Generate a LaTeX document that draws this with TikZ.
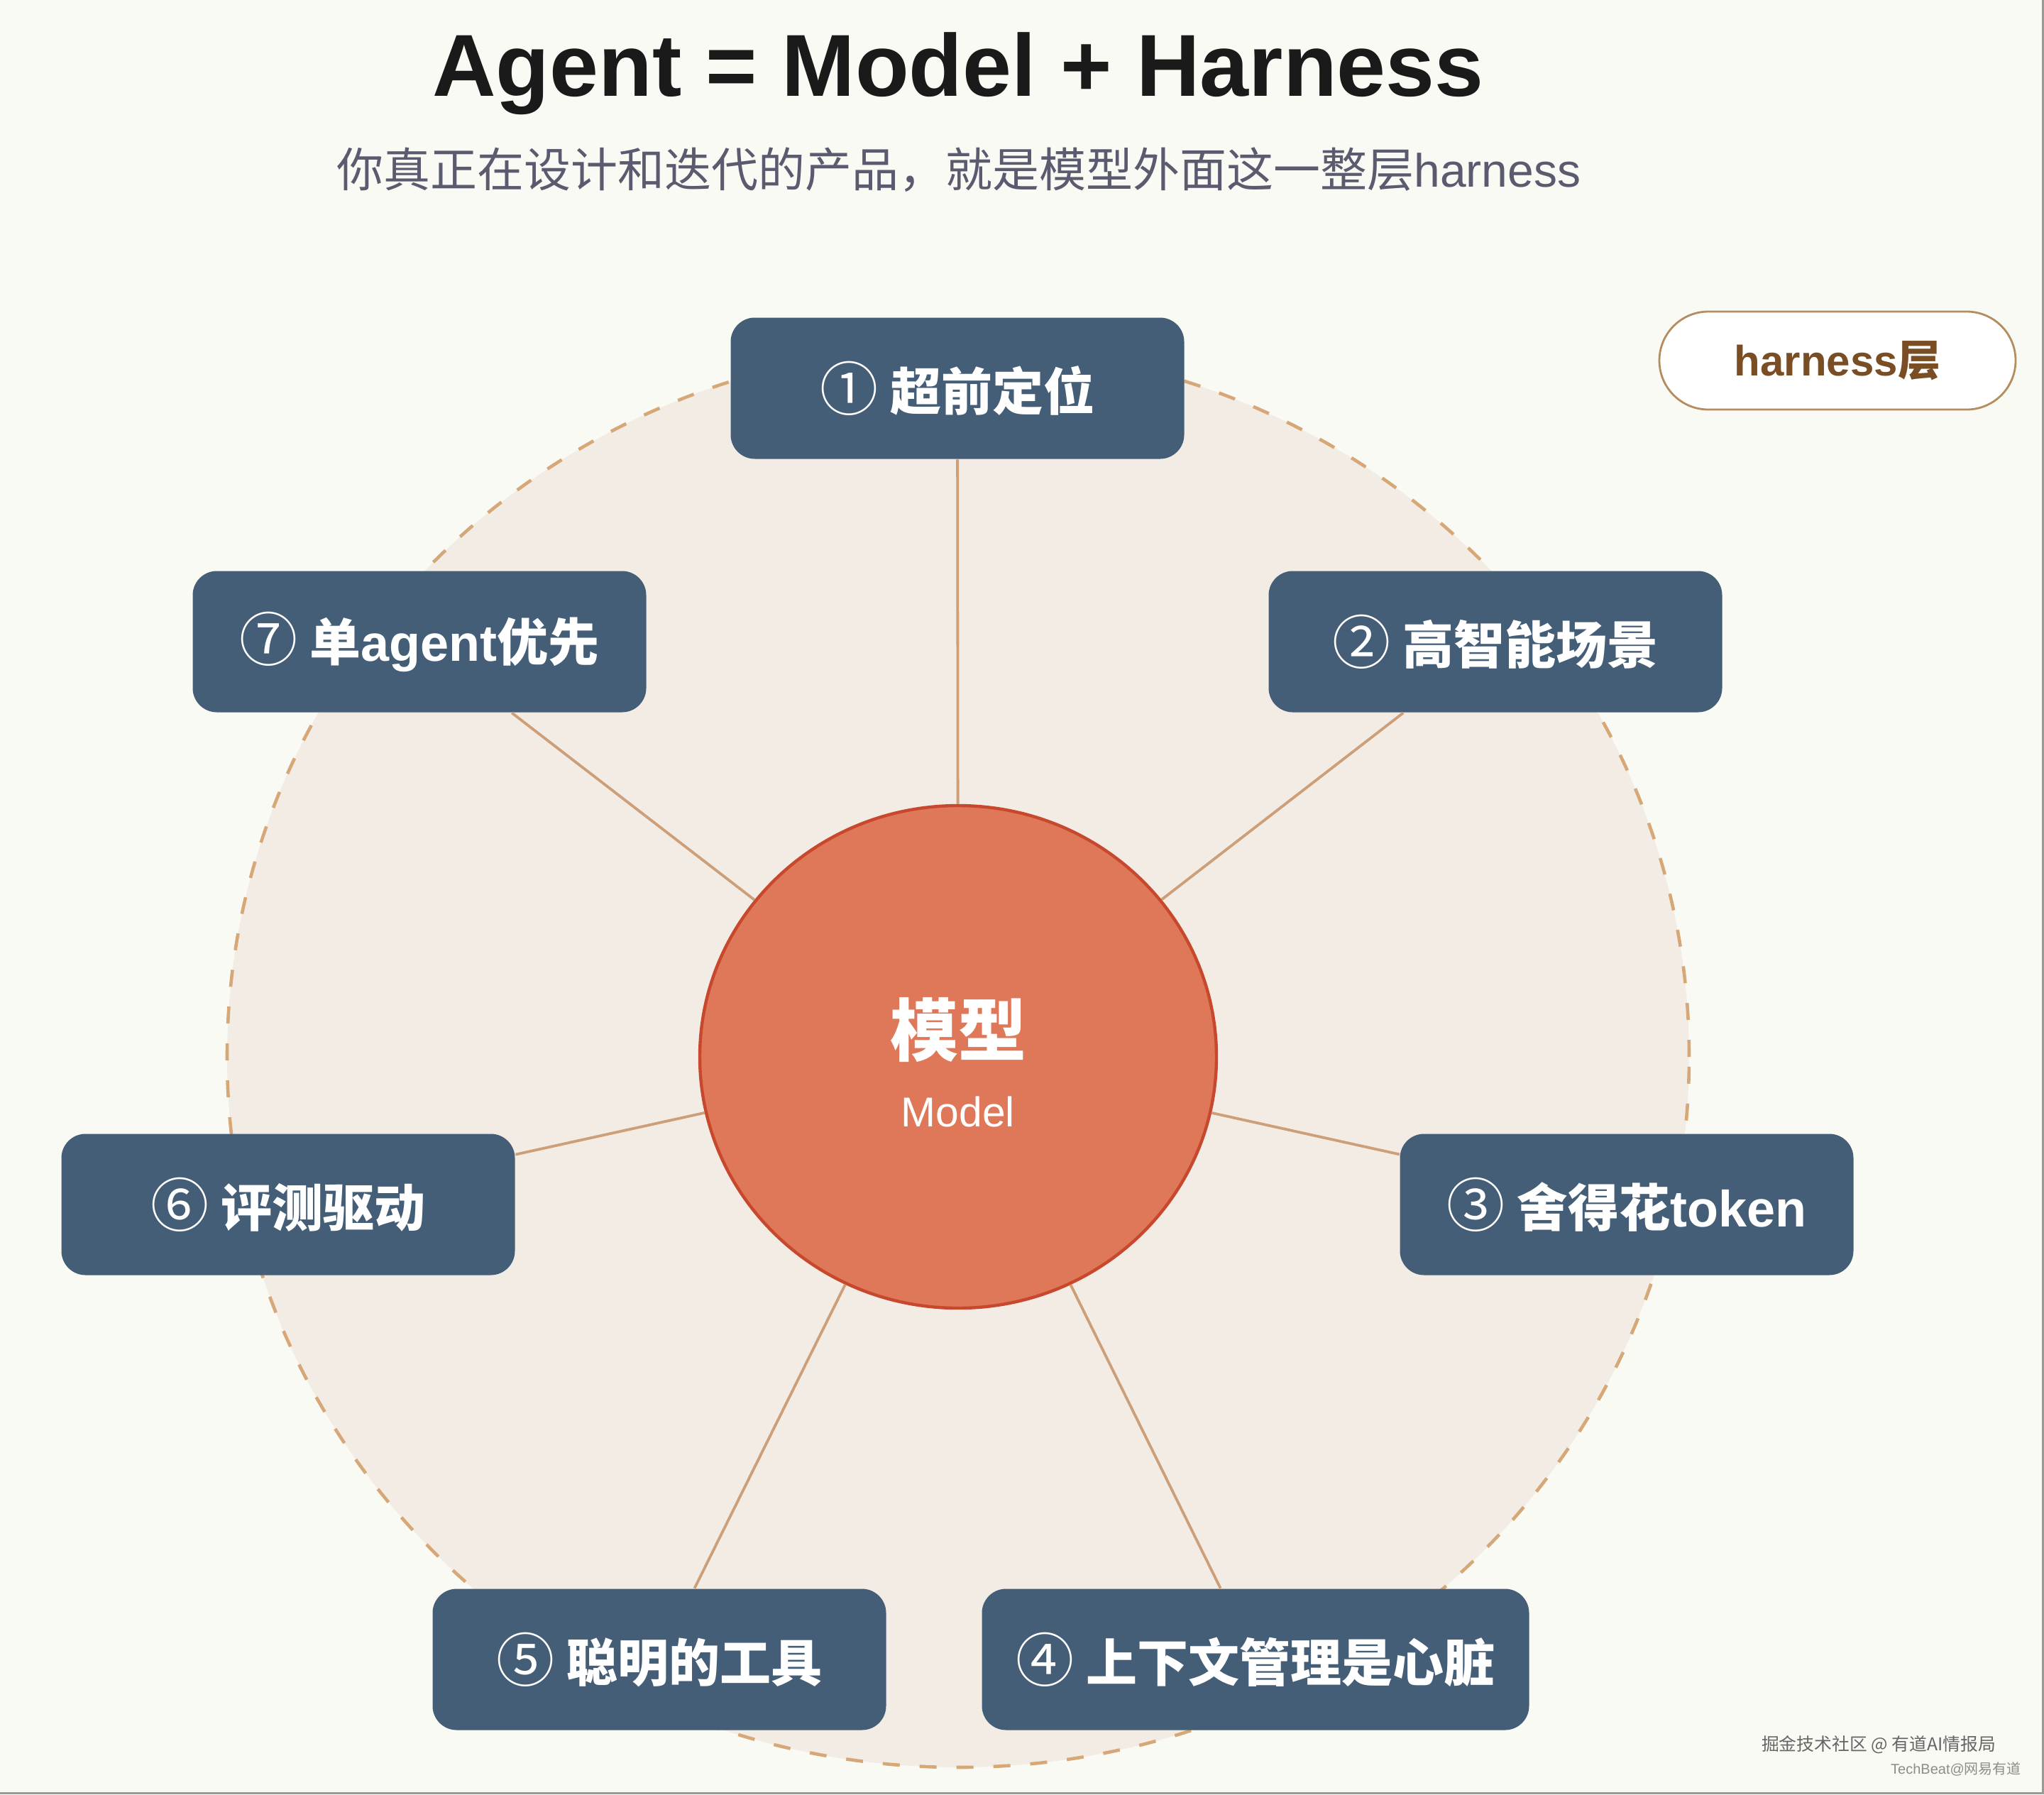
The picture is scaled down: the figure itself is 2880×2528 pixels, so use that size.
\documentclass[tikz,border=0pt]{standalone}
\usepackage{fontspec}
\setmainfont{Liberation Sans}
\newfontfamily\cjk{Noto Sans CJK SC}
\usetikzlibrary{shapes.geometric}
\definecolor{bgc}{HTML}{FAFAF5}
\definecolor{ringfill}{HTML}{F3ECE5}
\definecolor{ringline}{HTML}{D6A878}
\definecolor{spoke}{HTML}{CD9F78}
\definecolor{boxc}{HTML}{445E77}
\definecolor{corefill}{HTML}{DF7759}
\definecolor{coreline}{HTML}{C8482D}
\definecolor{tagline}{HTML}{B58C60}
\definecolor{tagtext}{HTML}{7A4E24}
\definecolor{subc}{HTML}{5B5B70}
\definecolor{titlec}{HTML}{1A1A1A}
\newcommand{\circnum}[1]{{\cjk\mdseries\fontsize{20.5}{20}\selectfont #1}}
\begin{document}
\begin{tikzpicture}[x=0.25pt,y=-0.25pt,
  pillar/.style={fill=boxc, draw=none, rounded corners=8.5pt,
    minimum width=159.75pt, minimum height=49.75pt, inner sep=0pt,
    text=white, font=\fontsize{18}{20}\selectfont\bfseries},
  spokeline/.style={draw=spoke, line width=0.95pt},
  ringstyle/.style={ellipse, inner sep=0pt, minimum width=515pt, minimum height=500.5pt,
    fill=ringfill, draw=ringline, line width=1.15pt, dash pattern=on 6pt off 7pt},
  corestyle/.style={ellipse, inner sep=0pt, minimum width=182pt, minimum height=177pt,
    fill=corefill, draw=coreline, line width=1.1pt},
  tagstyle/.style={draw=tagline, fill=white, line width=0.7pt, rounded corners=17.25pt,
    minimum width=125.5pt, minimum height=34.5pt, inner sep=0pt,
    text=tagtext, font=\fontsize{15}{17}\selectfont\bfseries}]
\useasboundingbox (0,0) rectangle (2880,2528);
\fill[bgc] (0,0) rectangle (2880,2528);
\draw[black!40, line width=0.75pt] (0,2526) -- (2878,2526) -- (2878,0);

% title and subtitle
\node[anchor=base, text=titlec, font=\fontsize{31}{36}\selectfont\bfseries] (title) at (1350,135) {Agent = Model + Harness};
\node[anchor=base, text=subc, font=\fontsize{16.5}{20}\selectfont] (sub) at (1351,263) {{\cjk 你真正在设计和迭代的产品，就是模型外面这一整层}harness};

% harness ring
\node[ringstyle] (ring) at (1350,1489) {};

% core
\node[corestyle] (core) at (1350,1489) {};

% boxes
\node[pillar] (b1) at (1349,547) {\circnum{①}{\cjk\ 超前定位}};
\node[pillar] (b2) at (2107,904) {\circnum{②}{\cjk\ 高智能场景}};
\node[pillar] (b3) at (2292,1697) {\circnum{③}{\cjk\ 舍得花}token};
\node[pillar, minimum width=192.75pt] (b4) at (1769,2338) {\circnum{④}{\cjk\ 上下文管理是心脏}};
\node[pillar] (b5) at (929,2338) {\circnum{⑤}{\cjk\ 聪明的工具}};
\node[pillar] (b6) at (406,1697) {\circnum{⑥}{\cjk\ 评测驱动}};
\node[pillar] (b7) at (591,904) {\circnum{⑦}{\cjk\ 单}agent{\cjk 优先}};

% spokes
\foreach \b in {b1,b2,b3,b4,b5,b6,b7}{
  \draw[spokeline] (core) -- (\b);
}

% core text
\node[anchor=base, text=white, font=\fontsize{24}{26}\selectfont\bfseries\cjk] (coreZh) at (1350,1487) {模型};
\node[anchor=base, text=white, font=\fontsize{14.7}{17}\selectfont] (coreEn) at (1350,1587) {Model};

% tag
\node[tagstyle] (tag) at (2589,508) {harness{\cjk 层}};

% watermark
\node[anchor=base east, text=black!60, font=\fontsize{6.2}{7}\selectfont\cjk] (wm1) at (2826,2466) {掘金技术社区 @ 有道AI情报局};
\node[anchor=base east, text=black!45, font=\fontsize{5}{6}\selectfont] (wm2) at (2862,2499) {TechBeat@{\cjk 网易有道}};
\end{tikzpicture}
\end{document}
